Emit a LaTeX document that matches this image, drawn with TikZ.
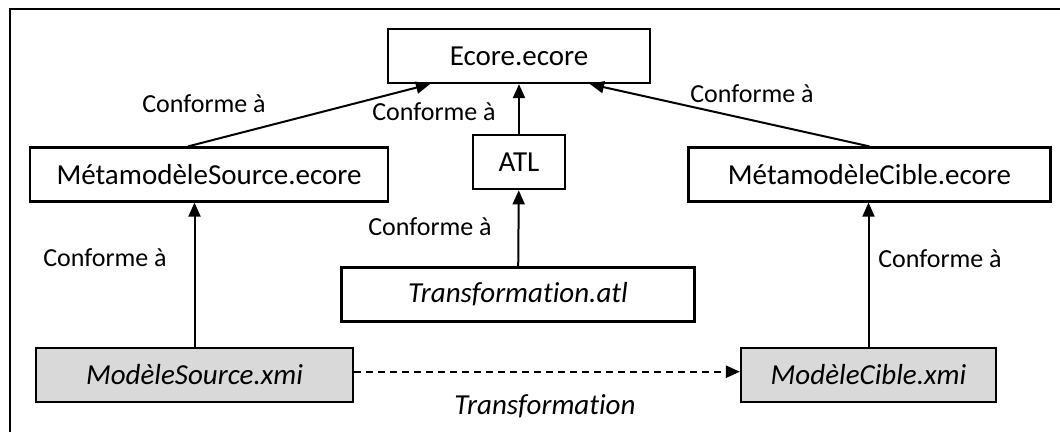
\documentclass[tikz,border=0pt]{standalone}
\usepackage{fontspec}
\setmainfont{Carlito}[Ligatures=NoCommon]
\usepackage{tikz}
\usetikzlibrary{arrows.meta,positioning}
\definecolor{colModel}{RGB}{217,217,217}
\tikzset{
  box/.style    = {rectangle, draw=black, line width=2.2pt, inner sep=0pt,
                   minimum height=54pt, text centered, font=\fontsize{29}{33}\selectfont},
  mbox/.style   = {box, fill=colModel, font=\fontsize{29}{33}\selectfont\itshape},
  lbl/.style    = {inner sep=0pt, font=\fontsize{26}{30}\selectfont},
  conf/.style   = {-{Triangle[length=14pt,width=12pt]}, line width=2pt},
  trans/.style  = {-{Triangle[length=14pt,width=12pt]}, line width=2.2pt,
                   dash pattern=on 7pt off 5pt},
}
\begin{document}
\begin{tikzpicture}[x=1pt, y=-1pt]
\useasboundingbox (0,0) rectangle (1060,432);

%% -- frame ----------------------------------------------------
\draw[line width=2pt] (10,432) -- (10,9) -- (1062,9);

%% -- metamodels -------------------------------------------------
\node[box, minimum width=262pt] (ecore) at (519,56) {Ecore.ecore};
\node[box, minimum width=92pt, below=50pt of ecore] (atl) {ATL};
\node[box, minimum width=353pt, below=76pt of atl, xshift=-1pt]
  (tatl) {\itshape Transformation.atl};
\node[box, minimum width=358pt] (metasrc) at (209,174.5) {MétamodèleSource.ecore};
\node[box, minimum width=362pt] (metacbl) at (869.5,174.5) {MétamodèleCible.ecore};

%% -- models -----------------------------------------------------
\node[mbox, minimum width=317pt, below=144pt of metasrc, xshift=-14.5pt]
  (msrc) {ModèleSource.xmi};
\node[mbox, minimum width=255pt, below=144pt of metacbl, xshift=-1pt]
  (mcbl) {ModèleCible.xmi};

%% -- labels -----------------------------------------------------
\node[lbl] (lsrc)  at (204,104) {Conforme à};
\node[lbl] (latl)  at (434,112) {Conforme à};
\node[lbl] (lcbl)  at (752,94)  {Conforme à};
\node[lbl] (ltatl) at (430,227) {Conforme à};
\node[lbl] (lmsrc) at (105,258) {Conforme à};
\node[lbl] (lmcbl) at (940,259) {Conforme à};
\node[lbl, font=\fontsize{29}{33}\selectfont\itshape] (ltrans) at (545,406) {Transformation};

%% -- arrows -----------------------------------------------------
\draw[conf] ([xshift=-21pt]metasrc.north) -- ([xshift=-89pt]ecore.south);
\draw[conf] (atl) -- (ecore);
\draw[conf] (metacbl.north) -- ([xshift=71pt]ecore.south);
\draw[conf] (tatl) -- (atl);
\draw[conf] (msrc.north) -- (msrc.north |- metasrc.south);
\draw[conf] (mcbl.north) -- (mcbl.north |- metacbl.south);
\draw[trans] ([yshift=3pt]msrc.east) -- ([yshift=3pt]mcbl.west);

\end{tikzpicture}
\end{document}
